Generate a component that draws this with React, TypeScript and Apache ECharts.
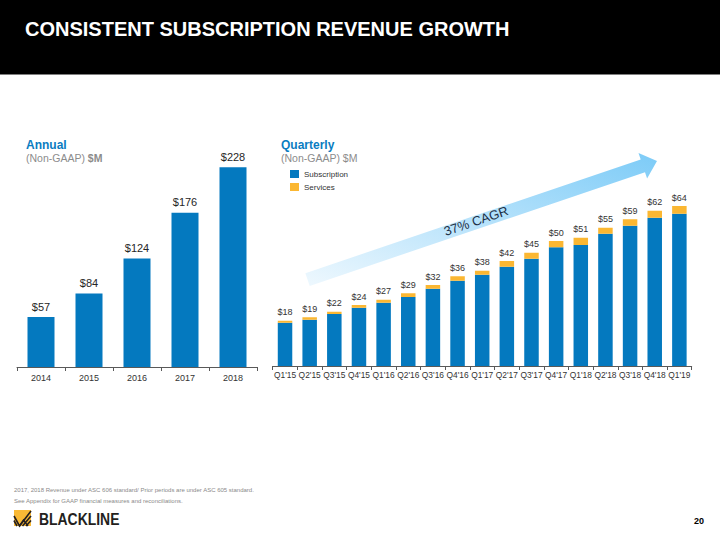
import React, { useEffect, useRef } from "react";
import * as echarts from "echarts";

const years = ["2014", "2015", "2016", "2017", "2018"];
const annualRevenue = [57, 84, 124, 176, 228];

const quarters = [
  "Q1'15", "Q2'15", "Q3'15", "Q4'15", "Q1'16", "Q2'16", "Q3'16", "Q4'16", "Q1'17",
  "Q2'17", "Q3'17", "Q4'17", "Q1'18", "Q2'18", "Q3'18", "Q4'18", "Q1'19",
];
const subscription = [17.3, 18.5, 20.8, 23.3, 25.3, 27.6, 30.9, 34.1, 36.5, 39.7, 42.9, 47.5, 48.4, 52.9, 56.1, 59.3, 60.9];
const services = [0.8, 1.0, 0.9, 1.1, 1.2, 1.5, 1.5, 1.8, 1.6, 2.3, 2.4, 2.5, 2.9, 2.4, 2.6, 2.8, 3.1];
const quarterTotalLabels = [18, 19, 22, 24, 27, 29, 32, 36, 38, 42, 45, 50, 51, 55, 59, 62, 64];

const BLUE = "#0479bf";
const GOLD = "#fbb732";
const FONT = "'Liberation Sans', Arial, sans-serif";

export default function App() {
  const ref = useRef<HTMLDivElement>(null);

  useEffect(() => {
    if (!ref.current) return;
    const chart = echarts.init(ref.current, null, { renderer: "svg" });

    const txt = (text: string, x: number, y: number, extra: any = {}) => ({
      type: "text",
      x,
      y,
      style: {
        text,
        fontFamily: FONT,
        textVerticalAlign: "middle",
        verticalAlign: "middle",
        ...extra,
      },
    });

    const option: any = {
      animation: false,
      backgroundColor: "#ffffff",
      textStyle: { fontFamily: FONT },
      legend: {
        data: ["Subscription", "Services"],
        orient: "vertical",
        left: 290,
        top: 170,
        padding: 0,
        itemWidth: 9,
        itemHeight: 8,
        itemGap: 5,
        icon: "rect",
        textStyle: { fontSize: 8, color: "#333333", fontFamily: FONT },
      },
      grid: [
        { left: 17, top: 148, width: 240, height: 219 },
        { left: 272.7, top: 191, width: 419, height: 175 },
      ],
      xAxis: [
        {
          type: "category",
          gridIndex: 0,
          data: years,
          axisLine: { lineStyle: { color: "#595959", width: 1 } },
          axisTick: { show: true, length: 4, lineStyle: { color: "#595959" } },
          axisLabel: { fontSize: 9, color: "#333333", margin: 6, fontFamily: FONT },
        },
        {
          type: "category",
          gridIndex: 1,
          data: quarters,
          axisLine: { lineStyle: { color: "#595959", width: 1 } },
          axisTick: { show: true, length: 4, lineStyle: { color: "#595959" } },
          axisLabel: { fontSize: 8.4, color: "#333333", margin: 5, interval: 0, fontFamily: FONT },
        },
      ],
      yAxis: [
        { type: "value", gridIndex: 0, min: 0, max: 250, show: false, splitLine: { show: false } },
        { type: "value", gridIndex: 1, min: 0, max: 70, show: false, splitLine: { show: false } },
      ],
      series: [
        {
          name: "Annual",
          type: "bar",
          xAxisIndex: 0,
          yAxisIndex: 0,
          data: annualRevenue,
          barWidth: 27,
          itemStyle: { color: BLUE },
          label: {
            show: true,
            position: "top",
            distance: 5,
            formatter: "${c}",
            fontSize: 11,
            color: "#262626",
            fontFamily: FONT,
          },
        },
        {
          name: "Subscription",
          type: "bar",
          xAxisIndex: 1,
          yAxisIndex: 1,
          stack: "q",
          data: subscription,
          barWidth: 14.5,
          itemStyle: { color: BLUE },
        },
        {
          name: "Services",
          type: "bar",
          xAxisIndex: 1,
          yAxisIndex: 1,
          stack: "q",
          data: services,
          barWidth: 14.5,
          itemStyle: { color: GOLD },
          label: {
            show: true,
            position: "top",
            distance: 4,
            formatter: (p: any) => "$" + quarterTotalLabels[p.dataIndex],
            fontSize: 9,
            color: "#333333",
            fontFamily: FONT,
          },
        },
      ],
      graphic: [
        { type: "rect", shape: { x: 0, y: 0, width: 720, height: 74 }, style: { fill: "#000000" } },
        { type: "line", shape: { x1: 0, y1: 74.5, x2: 720, y2: 74.5 }, style: { stroke: "#7f7f7f", lineWidth: 1 } },
        txt("CONSISTENT SUBSCRIPTION REVENUE GROWTH", 25, 29, {
          fill: "#ffffff",
          fontSize: 20,
          fontWeight: "bold",
        }),
        txt("Annual", 26, 145, { fill: "#0a7cc1", fontSize: 12, fontWeight: "bold" }),
        {
          type: "text",
          x: 26,
          y: 158,
          style: {
            text: "{a|(Non-GAAP)}{b| $M}",
            fill: "#8c8c8c",
            textVerticalAlign: "middle",
            verticalAlign: "middle",
            rich: {
              a: { fontSize: 10.5, fill: "#8c8c8c", color: "#8c8c8c", fontFamily: FONT },
              b: { fontSize: 10.5, fill: "#8c8c8c", color: "#8c8c8c", fontWeight: "bold", fontFamily: FONT },
            },
          },
        },
        txt("Quarterly", 281, 145, { fill: "#0a7cc1", fontSize: 12, fontWeight: "bold" }),
        txt("(Non-GAAP) $M", 281, 158, { fill: "#8c8c8c", fontSize: 10.5 }),
        {
          type: "polygon",
          z: 0,
          shape: {
            points: [
              [305.4, 273.2],
              [640.7, 159.5],
              [638.5, 153.0],
              [657.0, 161.0],
              [647.1, 178.6],
              [645.0, 172.2],
              [309.7, 285.9],
            ],
          },
          style: {
            fill: new echarts.graphic.LinearGradient(0, 1, 1, 0, [
              { offset: 0, color: "#eef8fe" },
              { offset: 0.5, color: "#b6e2fb" },
              { offset: 1, color: "#7ccbf7" },
            ]),
          },
        },
        {
          type: "text",
          x: 476,
          y: 221,
          rotation: 0.328,
          style: {
            text: "37% CAGR",
            fontFamily: FONT,
            fontSize: 13,
            fill: "#1d2f45",
            textAlign: "center",
            align: "center",
            textVerticalAlign: "middle",
            verticalAlign: "middle",
          },
        },
        txt("2017, 2018 Revenue under ASC 606 standard/ Prior periods are under ASC 605 standard.", 14, 490, {
          fill: "#8a8a8a",
          fontSize: 6,
        }),
        txt("See Appendix for GAAP financial measures and reconciliations.", 14, 500.5, {
          fill: "#8a8a8a",
          fontSize: 6,
        }),
        {
          type: "group",
          x: 14,
          y: 510,
          children: [
            { type: "rect", shape: { x: 0, y: 0, width: 17, height: 16 }, style: { fill: "#f9b935" } },
            { type: "polyline", shape: { points: [[0, 6], [5.5, 16], [17, 1]] }, style: { stroke: "#231f20", lineWidth: 1.6, fill: "none" } },
            { type: "polyline", shape: { points: [[0, 10.5], [3, 16]] }, style: { stroke: "#231f20", lineWidth: 1.6, fill: "none" } },
            { type: "polyline", shape: { points: [[8.5, 16], [17, 6]] }, style: { stroke: "#231f20", lineWidth: 1.6, fill: "none" } },
            { type: "polyline", shape: { points: [[12, 16], [17, 10.5]] }, style: { stroke: "#231f20", lineWidth: 1.6, fill: "none" } },
            { type: "polyline", shape: { points: [[5.5, 16], [9.5, 10], [14, 16]] }, style: { stroke: "#231f20", lineWidth: 1.4, fill: "none" } },
          ],
        },
        {
          type: "text",
          x: 39,
          y: 518.5,
          scaleX: 0.82,
          style: {
            text: "BLACKLINE",
            fontFamily: FONT,
            fontSize: 17,
            fontWeight: "bold",
            fill: "#231f20",
            textVerticalAlign: "middle",
            verticalAlign: "middle",
          },
        },
        txt("20", 704, 521, { fill: "#000000", fontSize: 9, fontWeight: "bold", textAlign: "right", align: "right" }),
      ],
    };

    chart.setOption(option);
    return () => chart.dispose();
  }, []);

  return (
    <div
      ref={ref}
      style={{ position: "fixed", left: 0, top: 0, width: 720, height: 540, background: "#fff" }}
    />
  );
}
